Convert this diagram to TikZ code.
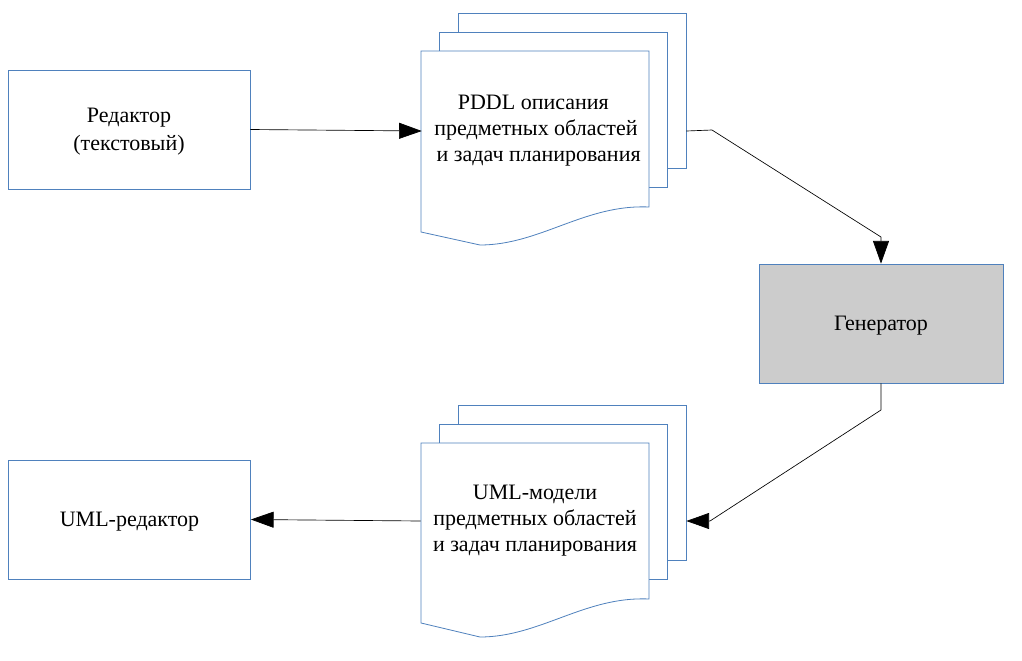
\documentclass[tikz,border=0pt]{standalone}
\usepackage{fontspec}
\setmainfont{Liberation Serif}
\usetikzlibrary{arrows.meta}
\definecolor{bord}{RGB}{79,129,189}
\definecolor{genfill}{RGB}{204,204,204}
\begin{document}
\begin{tikzpicture}[x=0.75pt,y=-0.75pt,
  every node/.style={font=\fontsize{16.5}{19.5}\selectfont, align=center},
  box/.style={draw=bord, line width=0.6pt, fill=white, minimum width=181.5pt, minimum height=89.25pt, inner sep=0pt},
  page/.style={draw=bord, line width=0.6pt, fill=white, minimum width=171pt, minimum height=116.25pt, inner sep=0pt},
  doctext/.style={minimum width=171pt, inner sep=0pt},
  docline/.style={draw=bord, line width=0.6pt, fill=white},
  arr/.style={draw=black, line width=0.5pt, -{Triangle[length=17pt,width=12pt]}}]
\useasboundingbox (0,0) rectangle (1022,661);

% editor
\node[box, font=\fontsize{16.5}{21}\selectfont, text depth=0pt] (editor) at (129,129.5) {Редактор\\(текстовый)};

% PDDL documents
\node[page] (pddlback) at (572,90.5) {};
\node[page] (pddlmid) at (553,109.5) {};
\path[docline] (421,51) -- (649,51) -- (649,207)
  .. controls (585,204) and (540,245) .. (480,245) -- (421,232) -- cycle;
\node[doctext] (pddl) at (536,131) {PDDL описания\kern4pt\\предметных областей\\\kern4pt и задач планирования};

% generator
\node[box, fill=genfill, minimum width=183pt, text depth=0pt] (gen) at (881,323.5) {Генератор};

% UML documents
\node[page] (umlback) at (572,482.5) {};
\node[page] (umlmid) at (553,501.5) {};
\path[docline] (421,443) -- (649,443) -- (649,599)
  .. controls (585,596) and (540,637) .. (480,637) -- (421,623) -- cycle;
\node[doctext] (uml) at (535,521) {UML-модели\\предметных областей\\и задач планирования};

% UML editor
\node[box, text depth=0pt] (umled) at (129.5,519.5) {UML-редактор};

% connectors
\coordinate (b1) at (712,130);
\coordinate (b2) at (881,237);
\coordinate (b3) at (881,410);
\coordinate (b4) at (710,521);
\draw[arr] (editor.east) -- (pddl.west);
\draw[arr] (pddlback.east |- pddl.center) -- (b1) -- (b2) -- (gen.north);
\draw[arr] (gen.south) -- (b3) -- (b4) -- (umlback.east |- uml.center);
\draw[arr] (uml.west) -- (umled.east);
\end{tikzpicture}
\end{document}
